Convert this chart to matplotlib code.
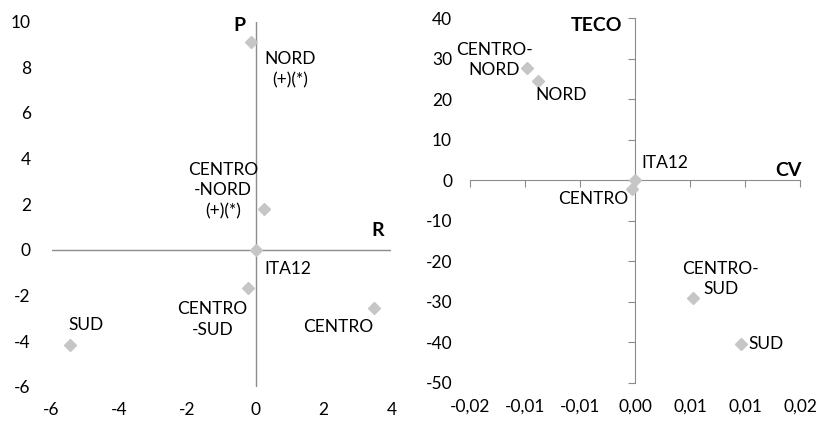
import matplotlib
matplotlib.use('Agg')
import matplotlib.pyplot as plt
from matplotlib.ticker import FuncFormatter
from decimal import Decimal, ROUND_HALF_UP
import numpy as np

plt.rcParams['font.family'] = ['Lato', 'DejaVu Sans']
plt.rcParams['axes.unicode_minus'] = False

# left panel: R vs P
regions_l = ['NORD', 'CENTRO-NORD', 'ITA12', 'CENTRO-SUD', 'CENTRO', 'SUD']
r_vals = [-0.13, 0.25, 0.0, -0.23, 3.48, -5.47]
p_vals = [9.1, 1.8, 0.0, -1.65, -2.55, -4.15]
labels_l = ['NORD\n(+)(*)', 'CENTRO\n-NORD\n(+)(*)', 'ITA12', 'CENTRO\n-SUD', 'CENTRO', 'SUD']
lab_pos_l = [(1.03, 7.9, 'center'), (-0.95, 2.6, 'center'), (0.25, -0.85, 'left'),
             (-1.27, -3.05, 'center'), (2.42, -3.4, 'center'), (-5.0, -3.3, 'center')]

# right panel: CV vs TECO
regions_r = ['CENTRO-NORD', 'NORD', 'ITA12', 'CENTRO', 'CENTRO-SUD', 'SUD']
cv_vals = [-0.0098, -0.0088, 0.0, -0.0003, 0.0053, 0.0096]
teco_vals = [27.8, 24.6, 0.0, -2.2, -29.0, -40.3]
labels_r = ['CENTRO-\nNORD', 'NORD', 'ITA12', 'CENTRO', 'CENTRO-\nSUD', 'SUD']
lab_pos_r = [(-0.0128, 29.7, 'center'), (-0.0067, 21.1, 'center'), (0.0006, 4.3, 'left'),
             (-0.0038, -4.7, 'center'), (0.0078, -24.3, 'center'), (0.0103, -40.3, 'left')]

xt_l = [-6, -4, -2, 0, 2, 4]
yt_l = [-6, -4, -2, 0, 2, 4, 6, 8, 10]
xt_r = [-0.015, -0.01, -0.005, 0.0, 0.005, 0.01, 0.015]
yt_r = [-50, -40, -30, -20, -10, 0, 10, 20, 30, 40]

mcol = '#c6c6c6'
acol = '#8c8c8c'
fs = 12.5


def comma2(v, pos=None):
    d = Decimal(str(round(v, 4))).quantize(Decimal('0.01'), rounding=ROUND_HALF_UP)
    s = str(d).replace('.', ',')
    if s == '-0,00':
        s = '0,00'
    return s


fig = plt.figure(figsize=(8.19, 4.26), dpi=100)

# ---- left
ax1 = fig.add_axes([0.063, 0.092, 0.415, 0.857])
ax1.set_xlim(-6, 4)
ax1.set_ylim(-6, 10)
for s in ax1.spines.values():
    s.set_visible(False)
ax1.axhline(0, color=acol, lw=1, zorder=1)
ax1.axvline(0, color=acol, lw=1, zorder=1)
ax1.set_xticks(xt_l)
ax1.set_yticks(yt_l)
ax1.tick_params(length=0, labelsize=fs, pad=11)
ax1.tick_params(axis='y', pad=15)
ax1.plot(r_vals, p_vals, 'D', color=mcol, ms=6, zorder=3)
for t, (x, y, ha) in zip(labels_l, lab_pos_l):
    ax1.text(x, y, t, ha=ha, va='center', fontsize=fs, linespacing=1.35)
ax1.text(-0.3, 9.85, 'P', ha='right', va='center', fontsize=fs + 1.5, fontweight='bold')
ax1.text(3.6, 0.85, 'R', ha='center', va='center', fontsize=fs + 1.5, fontweight='bold')

# ---- right
ax2 = fig.add_axes([0.574, 0.101, 0.403, 0.856])
ax2.set_xlim(-0.015, 0.015)
ax2.set_ylim(-50, 40)
ax2.spines['top'].set_visible(False)
ax2.spines['right'].set_visible(False)
ax2.spines['left'].set_position(('data', 0))
ax2.spines['bottom'].set_position(('data', 0))
ax2.spines['left'].set_color(acol)
ax2.spines['bottom'].set_color(acol)
ax2.set_xticks(xt_r)
ax2.set_yticks(yt_r)
ax2.tick_params(colors=acol, length=5, direction='out', labelleft=False, labelbottom=False)

sx = ax2.secondary_xaxis('bottom')
sx.set_xticks(xt_r)
sx.xaxis.set_major_formatter(FuncFormatter(comma2))
sx.spines['bottom'].set_visible(False)
sx.tick_params(length=0, labelsize=fs, pad=11)
sy = ax2.secondary_yaxis('left')
sy.set_yticks(yt_r)
sy.spines['left'].set_visible(False)
sy.tick_params(length=0, labelsize=fs, pad=13)

ax2.plot(cv_vals, teco_vals, 'D', color=mcol, ms=6, zorder=3, clip_on=False)
for t, (x, y, ha) in zip(labels_r, lab_pos_r):
    ax2.text(x, y, t, ha=ha, va='center', fontsize=fs, linespacing=1.35)
ax2.text(-0.0012, 38.3, 'TECO', ha='right', va='center', fontsize=fs + 1.5, fontweight='bold')
ax2.text(0.0139, 2.4, 'CV', ha='center', va='center', fontsize=fs + 1.5, fontweight='bold')

fig.savefig('out.png', dpi=100)
